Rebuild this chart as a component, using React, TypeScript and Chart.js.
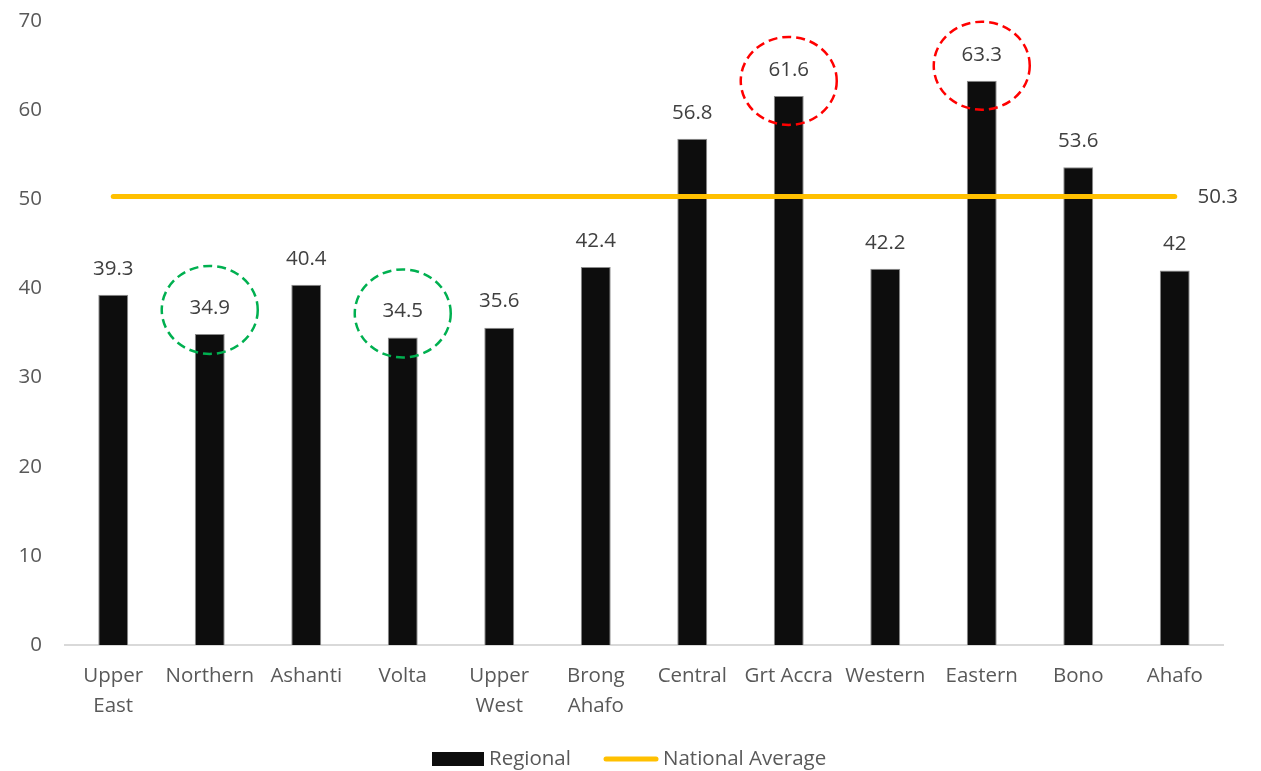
import React, { useEffect, useRef } from "react";
import { Chart, registerables } from "chart.js";

Chart.register(...registerables);

const categories: string[][] = [
  ["Upper", "East"], ["Northern"], ["Ashanti"], ["Volta"], ["Upper", "West"],
  ["Brong", "Ahafo"], ["Central"], ["Grt Accra"], ["Western"], ["Eastern"], ["Bono"], ["Ahafo"],
];
const regionalValues = [39.3, 34.9, 40.4, 34.5, 35.6, 42.4, 56.8, 61.6, 42.2, 63.3, 53.6, 42];
const nationalAverage = 50.3;
const nationalValues = categories.map(() => nationalAverage);
const lowHighlight = [1, 3];
const highHighlight = [7, 9];
const yTicks = [0, 10, 20, 30, 40, 50, 60, 70];

const FONT = "'Open Sans', sans-serif";
const FS = 20.5;

export default function App() {
  const ref = useRef<HTMLCanvasElement | null>(null);
  useEffect(() => {
    document.body.style.margin = "0";
    const canvas = ref.current!;
    const overlay = {
      id: "overlay",
      afterDraw(chart: any) {
        const ctx = chart.ctx;
        const meta = chart.getDatasetMeta(0);
        ctx.save();
        ctx.font = `${FS}px ${FONT}`;
        ctx.fillStyle = "#404040";
        ctx.textAlign = "center";
        ctx.textBaseline = "middle";
        meta.data.forEach((bar: any, i: number) => {
          ctx.fillText(String(regionalValues[i]), bar.x, bar.y - 26);
        });
        const lmeta = chart.getDatasetMeta(1);
        const last = lmeta.data[lmeta.data.length - 1];
        ctx.fillText(String(nationalAverage), last.x + 43, last.y + 1);
        ctx.lineWidth = 2.5;
        ctx.setLineDash([9, 5]);
        const drawEll = (idx: number[], color: string, dy: number) => {
          ctx.strokeStyle = color;
          idx.forEach((i) => {
            const bar = meta.data[i];
            ctx.beginPath();
            ctx.ellipse(bar.x, bar.y + dy, 48, 44, 0, 0, Math.PI * 2);
            ctx.stroke();
          });
        };
        drawEll(lowHighlight, "#00B050", -24);
        drawEll(highHighlight, "#FF0000", -15);
        ctx.setLineDash([]);
        const ly = 759;
        ctx.fillStyle = "#0d0d0d";
        ctx.fillRect(432, ly - 7, 52, 14);
        ctx.fillStyle = "#595959";
        ctx.textAlign = "left";
        ctx.fillText(chart.data.datasets[0].label, 489, ly);
        ctx.strokeStyle = "#FFC000";
        ctx.lineWidth = 5;
        ctx.lineCap = "round";
        ctx.beginPath();
        ctx.moveTo(606, ly);
        ctx.lineTo(656, ly);
        ctx.stroke();
        ctx.fillText(chart.data.datasets[1].label, 663, ly);
        ctx.restore();
      },
    };
    const chart = new Chart(canvas, {
      type: "bar",
      data: {
        labels: categories,
        datasets: [
          {
            type: "bar",
            label: "Regional",
            data: regionalValues,
            backgroundColor: "#0d0d0d",
            borderColor: "#8c8c8c",
            borderWidth: 1,
            barPercentage: 0.31,
            categoryPercentage: 1,
            order: 2,
          },
          {
            type: "line",
            label: "National Average",
            data: nationalValues,
            borderColor: "#FFC000",
            backgroundColor: "#FFC000",
            borderWidth: 5,
            borderCapStyle: "round",
            pointRadius: 0,
            order: 1,
          } as any,
        ],
      },
      options: {
        responsive: false,
        animation: false,
        layout: { padding: { left: 0, right: 38, top: 21, bottom: 0 } },
        plugins: { legend: { display: false }, tooltip: { enabled: false } },
        scales: {
          x: {
            grid: { display: false, drawTicks: false },
            border: { display: true, color: "#d9d9d9", width: 2 },
            ticks: {
              color: "#595959",
              font: { family: FONT, size: FS, lineHeight: 1.42 } as any,
              maxRotation: 0,
              autoSkip: false,
              padding: 17,
            },
            afterFit: (s: any) => {
              s.height = 126;
              s.paddingLeft = 0;
              s.paddingRight = 0;
            },
          },
          y: {
            min: 0,
            max: 70,
            grid: { display: false, drawTicks: false },
            border: { display: false },
            afterBuildTicks: (s: any) => { s.ticks = yTicks.map((v) => ({ value: v })); },
            ticks: {
              color: "#595959",
              font: { family: FONT, size: FS },
              padding: 23,
            },
            afterFit: (s: any) => {
              s.width = 65;
              s.paddingTop = 0;
              s.paddingBottom = 0;
            },
          },
        },
      },
      plugins: [overlay],
    });
    return () => chart.destroy();
  }, []);
  return <canvas ref={ref} width={1261} height={771} style={{ display: "block" }} />;
}
